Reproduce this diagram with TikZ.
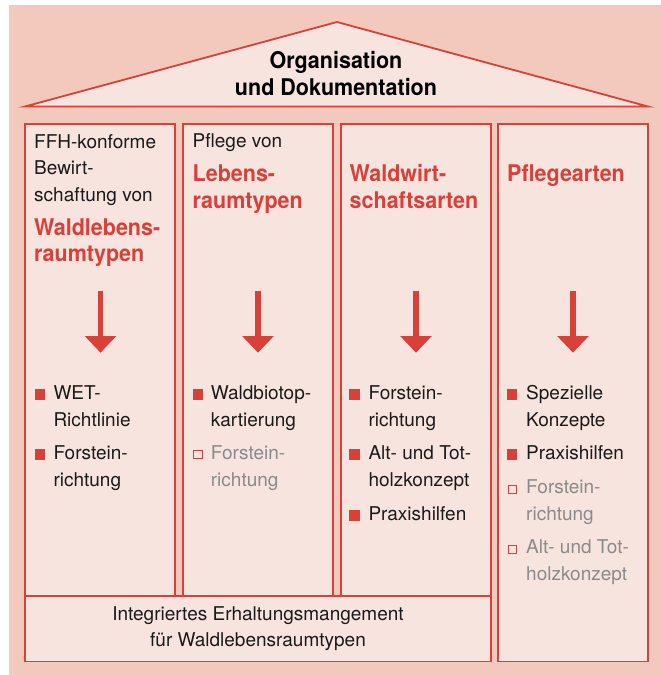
\documentclass[tikz,border=0pt]{standalone}
\usepackage{fontspec}
\setmainfont{TeX Gyre Heros}[BoldFeatures={FakeStretch=0.935}]
\usepackage{tikz}
\usetikzlibrary{arrows.meta,positioning}

\definecolor{hausrot}{HTML}{D8413A}
\definecolor{hausgrund}{HTML}{F2C9BC}
\definecolor{hausfeld}{HTML}{F8E4DE}
\definecolor{grautext}{HTML}{8A8A8A}
\definecolor{schwarztext}{HTML}{1A1A1A}

\tikzset{
  feld/.style={draw=hausrot, fill=hausfeld, line width=1.8pt},
  txt/.style={anchor=base west, align=left, inner sep=0pt, text=schwarztext,
    font=\fontsize{19}{26.7}\selectfont},
  grau/.style={txt, text=grautext},
  kopf/.style={txt, text=hausrot, font=\bfseries\fontsize{23}{26.7}\selectfont},
  vollq/.style={anchor=south west, fill=hausrot, inner sep=0pt, minimum size=10.5pt},
  leerq/.style={anchor=south west, draw=hausrot, fill=hausfeld, line width=1.1pt,
    inner sep=0pt, minimum size=8.3pt},
  pfeil/.style={draw=hausrot, line width=5.5pt,
    -{Triangle[width=30.7pt,length=16.7pt]}}
}

\begin{document}
\begin{tikzpicture}[x=1pt,y=-1pt]
  \useasboundingbox (0,0) rectangle (661,675);
  % Hintergrund
  \fill[hausgrund] (8.7,5) rectangle (661,675);

  % Dach
  \draw[feld, line join=miter] (25,106.5) -- (337,22) -- (648,106.5) -- cycle;
  \node[anchor=base, align=center, inner sep=0pt, text=black,
    font=\bfseries\fontsize{23}{27}\selectfont] (dach) at (336,95)
    {Organisation\\und Dokumentation};

  % Saeulen
  \draw[feld] (25,124) rectangle (175,596);
  \draw[feld] (183,124) rectangle (333,596);
  \draw[feld] (341,124) rectangle (491,596);
  \draw[feld] (498,124) rectangle (648,661.5);
  \draw[feld] (25,596) rectangle (491,661.5);

  % Ueberschriften (Grundlinie der letzten Zeile)
  \node[txt] (s1a) at (34,201.5) {FFH-konforme\\Bewirt-\\schaftung von};
  \node[kopf] (s1b) at (34,261.7) {Waldlebens-\\raumtypen};
  \node[txt] (s2a) at (192.5,147.7) {Pflege von};
  \node[kopf] (s2b) at (192.5,208.4) {Lebens-\\raumtypen};
  \node[kopf] (s3b) at (349.5,208.4) {Waldwirt-\\schaftsarten};
  \node[kopf] (s4b) at (507,181.7) {Pflegearten};

  % Pfeile
  \foreach \px [count=\i] in {100.5,258,416,573} {
    \coordinate (p\i o) at (\px,290.7);
    \coordinate (p\i u) at (\px,352.7);
    \draw[pfeil] (p\i o) -- (p\i u);
  }

  % Spalte 1
  \node[vollq] (q11) at (34.3,400) {};
  \node[txt] (e11) at (53.3,426) {WET-\\Richtlinie};
  \node[vollq] (q12) at (34.3,460) {};
  \node[txt] (e12) at (53.3,486) {Forstein-\\richtung};

  % Spalte 2
  \node[vollq] (q21) at (192.3,400) {};
  \node[txt] (e21) at (210.7,426) {Waldbiotop-\\kartierung};
  \node[leerq] (q22) at (193.2,459.3) {};
  \node[grau] (e22) at (210.7,486) {Forstein-\\richtung};

  % Spalte 3
  \node[vollq] (q31) at (349,400) {};
  \node[txt] (e31) at (368.3,426) {Forstein-\\richtung};
  \node[vollq] (q32) at (349,460) {};
  \node[txt] (e32) at (368.3,486) {Alt- und Tot-\\holzkonzept};
  \node[vollq] (q33) at (349,520.7) {};
  \node[txt] (e33) at (368.3,520) {Praxishilfen};

  % Spalte 4
  \node[vollq] (q41) at (506.7,400) {};
  \node[txt] (e41) at (526,426) {Spezielle\\Konzepte};
  \node[vollq] (q42) at (506.7,460) {};
  \node[txt] (e42) at (526,459.3) {Praxishilfen};
  \node[leerq] (q43) at (507.6,494) {};
  \node[grau] (e43) at (526,520.5) {Forstein-\\richtung};
  \node[leerq] (q44) at (507.6,554) {};
  \node[grau] (e44) at (526,580.5) {Alt- und Tot-\\holzkonzept};

  % Fundament
  \node[anchor=base, align=center, inner sep=0pt, text=schwarztext,
    font=\fontsize{19}{26.3}\selectfont] (fund) at (258,646.3)
    {Integriertes Erhaltungsmangement\\f\"ur Waldlebensraumtypen};
\end{tikzpicture}
\end{document}
